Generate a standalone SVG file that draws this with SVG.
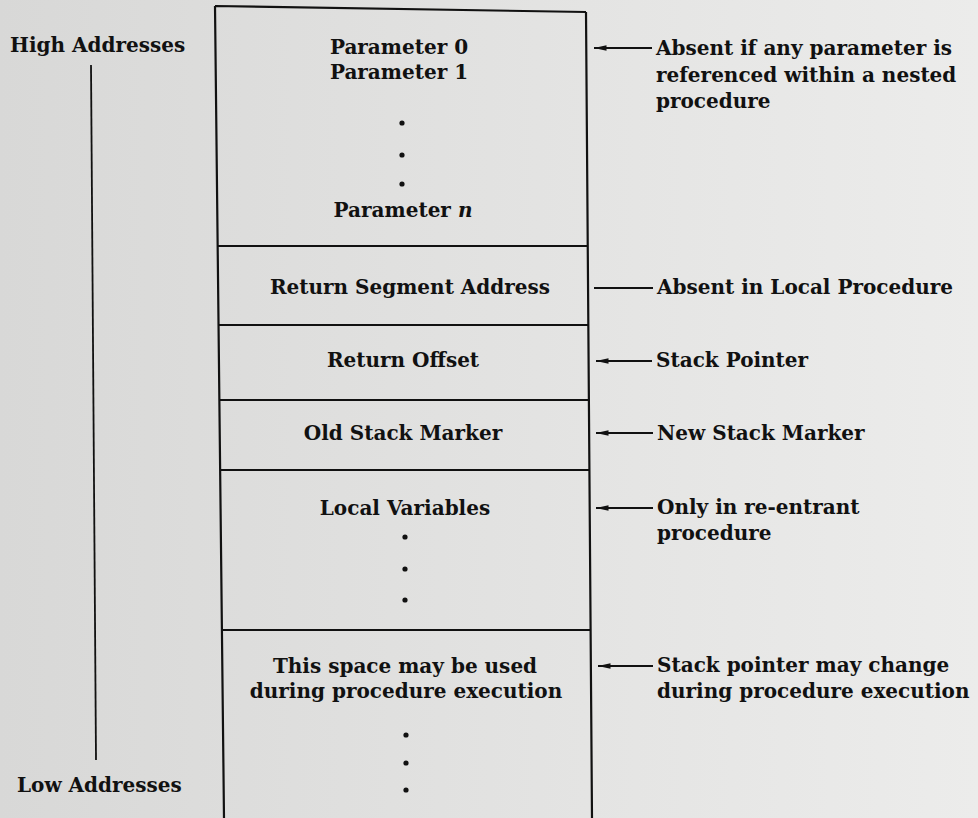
<svg xmlns="http://www.w3.org/2000/svg" width="978" height="818" viewBox="0 0 978 818">
<defs>
<linearGradient id="bg" x1="0" y1="0" x2="1" y2="0">
<stop offset="0" stop-color="#d8d8d7"/>
<stop offset="0.5" stop-color="#e2e2e1"/>
<stop offset="1" stop-color="#ececeb"/>
</linearGradient>
<marker id="ah" viewBox="0 0 13 8" refX="12.5" refY="4" markerWidth="13" markerHeight="8" markerUnits="userSpaceOnUse" orient="auto">
<path d="M0,1.3 L13,4 L0,6.7 Z" fill="#111"/>
</marker>
<style>
text{font-family:"DejaVu Serif","Liberation Serif",serif;font-weight:bold;font-size:20px;fill:#111;}
.c{text-anchor:middle;}
.box{stroke:#111;stroke-width:2.2;fill:none;}
.conn{stroke:#111;stroke-width:1.8;fill:none;}
.dot{fill:#111;}
</style>
</defs>
<rect width="978" height="818" fill="url(#bg)"/>

<g id="axis">
<text x="10" y="52">High Addresses</text>
<line x1="91" y1="65" x2="96" y2="760" class="conn" stroke-width="2.2"/>
<text x="17" y="792">Low Addresses</text>
</g>

<g id="stack-frame">
<path class="box" d="M215,6 L586,12 M215,6 L224,818 M586,12 L592,818"/>
</g>

<g id="parameters">
<text class="c" x="399" y="54">Parameter 0</text>
<text class="c" x="399" y="79">Parameter 1</text>
<circle class="dot" cx="402" cy="123" r="2.6"/>
<circle class="dot" cx="402" cy="155" r="2.6"/>
<circle class="dot" cx="402" cy="184" r="2.6"/>
<text class="c" x="403" y="217">Parameter <tspan font-style="italic">n</tspan></text>
<line class="box" x1="218" y1="246" x2="588" y2="246"/>
</g>

<g id="return-segment">
<text class="c" x="410" y="294">Return Segment Address</text>
<line class="box" x1="219" y1="325" x2="588" y2="325"/>
</g>

<g id="return-offset">
<text class="c" x="403" y="367">Return Offset</text>
<line class="box" x1="220" y1="400" x2="589" y2="400"/>
</g>

<g id="old-stack-marker">
<text class="c" x="403" y="440">Old Stack Marker</text>
<line class="box" x1="221" y1="470" x2="589" y2="470"/>
</g>

<g id="local-variables">
<text class="c" x="405" y="515">Local Variables</text>
<circle class="dot" cx="405" cy="537" r="2.6"/>
<circle class="dot" cx="405" cy="569" r="2.6"/>
<circle class="dot" cx="405" cy="600" r="2.6"/>
<line class="box" x1="222" y1="630" x2="590" y2="630"/>
</g>

<g id="work-space">
<text class="c" x="405" y="673">This space may be used</text>
<text class="c" x="406" y="698">during procedure execution</text>
<circle class="dot" cx="406" cy="735" r="2.6"/>
<circle class="dot" cx="406" cy="763" r="2.6"/>
<circle class="dot" cx="406" cy="790" r="2.6"/>
</g>

<g id="connectors">
<line class="conn" x1="652" y1="48" x2="594" y2="48" marker-end="url(#ah)"/>
<line class="conn" x1="653" y1="288" x2="594" y2="288"/>
<line class="conn" x1="652" y1="361" x2="596" y2="361" marker-end="url(#ah)"/>
<line class="conn" x1="653" y1="433" x2="596" y2="433" marker-end="url(#ah)"/>
<line class="conn" x1="653" y1="508" x2="596" y2="508" marker-end="url(#ah)"/>
<line class="conn" x1="653" y1="666" x2="598" y2="666" marker-end="url(#ah)"/>
</g>

<g id="notes">
<text x="656" y="55">Absent if any parameter is</text>
<text x="656" y="82">referenced within a nested</text>
<text x="656" y="108">procedure</text>
<text x="657" y="294">Absent in Local Procedure</text>
<text x="656" y="367">Stack Pointer</text>
<text x="657" y="440">New Stack Marker</text>
<text x="657" y="514">Only in re-entrant</text>
<text x="657" y="540">procedure</text>
<text x="657" y="672">Stack pointer may change</text>
<text x="657" y="698">during procedure execution</text>
</g>
</svg>
